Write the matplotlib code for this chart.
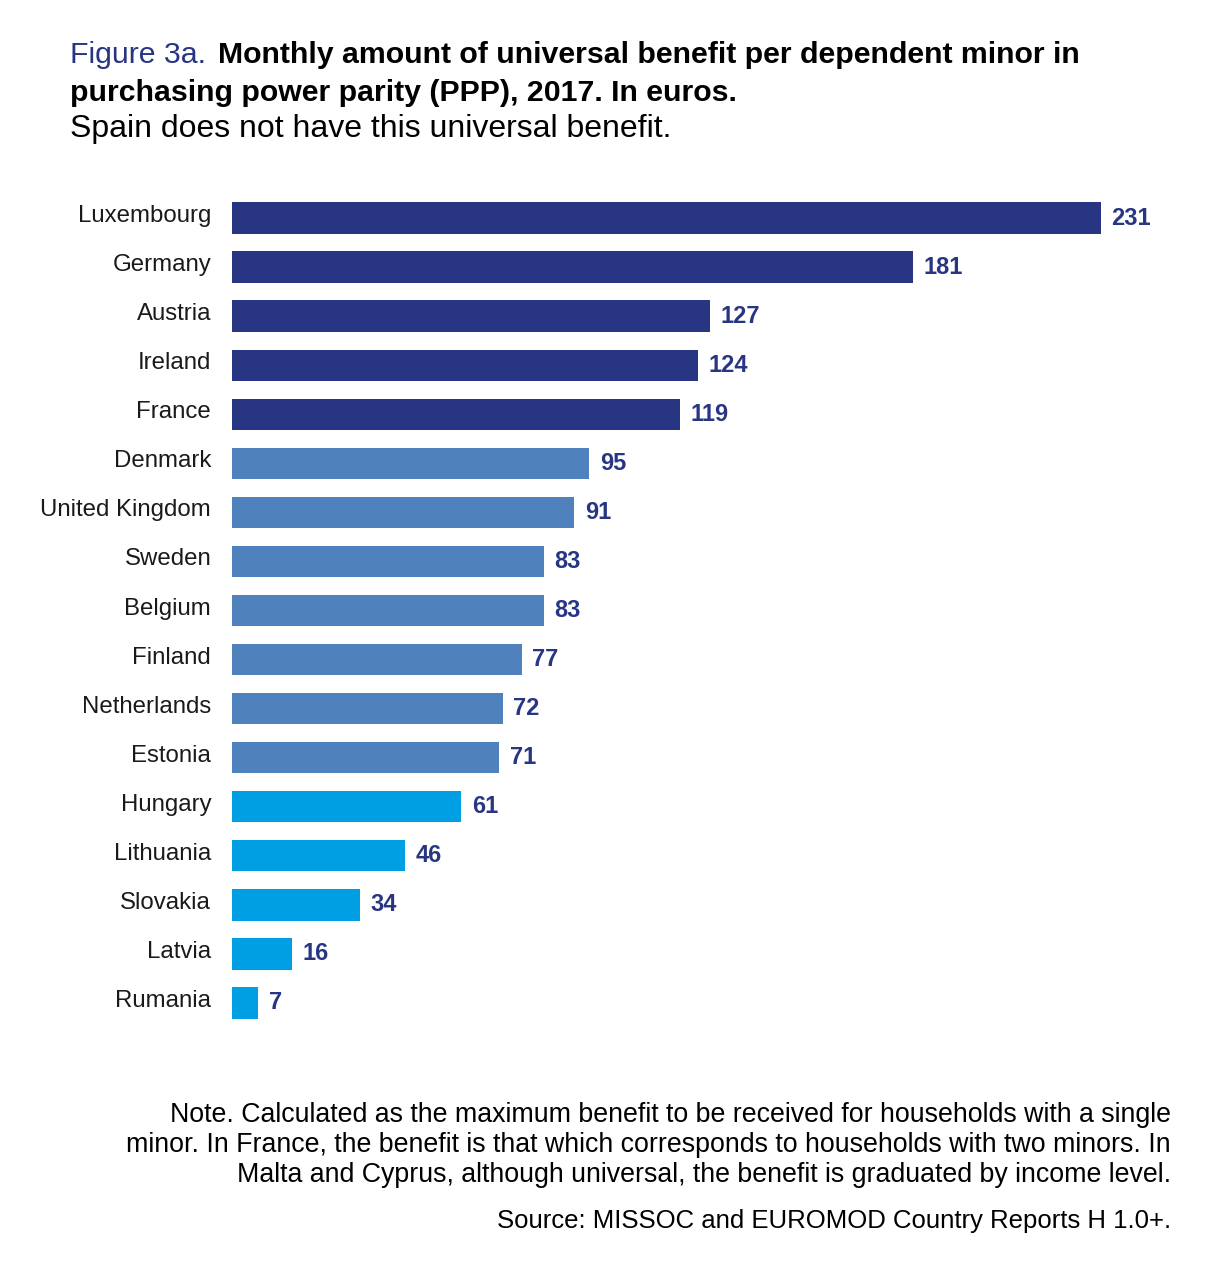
import matplotlib
matplotlib.use("Agg")
import matplotlib.pyplot as plt

countries = ["Luxembourg", "Germany", "Austria", "Ireland", "France", "Denmark",
             "United Kingdom", "Sweden", "Belgium", "Finland", "Netherlands", "Estonia",
             "Hungary", "Lithuania", "Slovakia", "Latvia", "Rumania"]
values = [231, 181, 127, 124, 119, 95, 91, 83, 83, 77, 72, 71, 61, 46, 34, 16, 7]
groups = [0, 0, 0, 0, 0, 1, 1, 1, 1, 1, 1, 1, 2, 2, 2, 2, 2]
group_colors = ["#283583", "#4f81bd", "#009fe3"]

NAVY = "#283583"
reg = "Liberation Sans"

W, H = 1218, 1270
fig = plt.figure(figsize=(W / 100, H / 100), dpi=100)
left_px, right_px = 232, 1101
top_px, bot_px = 218 - 24.5, 1003 + 24.5
ax = fig.add_axes([left_px / W, 1 - bot_px / H, (right_px - left_px) / W, (bot_px - top_px) / H])

ys = list(range(len(countries)))
ax.barh(ys, values, height=0.64, color=[group_colors[g] for g in groups])
ax.set_xlim(0, 231)
ax.set_ylim(len(countries) - 0.5, -0.5)
ax.axis("off")

for y, v, c in zip(ys, values, countries):
    ax.annotate(str(v), (v, y), xytext=(7.5, 0), textcoords="offset points",
                ha="left", va="center", fontsize=17, fontweight="bold",
                color=NAVY, family=reg, annotation_clip=False)
    ax.annotate(c, (0, y), xytext=(-15, -2.9), textcoords="offset points",
                ha="right", va="baseline", fontsize=17.3, color="#1a1a1a",
                family=reg, annotation_clip=False)

# Title
fig.text(70 / W, 1 - 63 / H, "Figure 3a.", ha="left", va="baseline",
         fontsize=21.8, color=NAVY, family=reg)
fig.text(218 / W, 1 - 63 / H, "Monthly amount of universal benefit per dependent minor in",
         ha="left", va="baseline", fontsize=21.8, fontweight="bold", color="black", family=reg)
fig.text(70 / W, 1 - 101 / H, "purchasing power parity (PPP), 2017. In euros.",
         ha="left", va="baseline", fontsize=21.8, fontweight="bold", color="black", family=reg)
fig.text(70 / W, 1 - 137 / H, "Spain does not have this universal benefit.",
         ha="left", va="baseline", fontsize=23, color="black", family=reg)

notes = ["Note. Calculated as the maximum benefit to be received for households with a single",
         "minor. In France, the benefit is that which corresponds to households with two minors. In",
         "Malta and Cyprus, although universal, the benefit is graduated by income level."]
for i, line in enumerate(notes):
    fig.text(1171 / W, 1 - (1122 + 30 * i) / H, line, ha="right", va="baseline",
             fontsize=19.3, color="black", family=reg)
fig.text(1171 / W, 1 - 1228 / H, "Source: MISSOC and EUROMOD Country Reports H 1.0+.",
         ha="right", va="baseline", fontsize=18.5, color="black", family=reg)

fig.savefig("out.png", dpi=100, facecolor="white")
